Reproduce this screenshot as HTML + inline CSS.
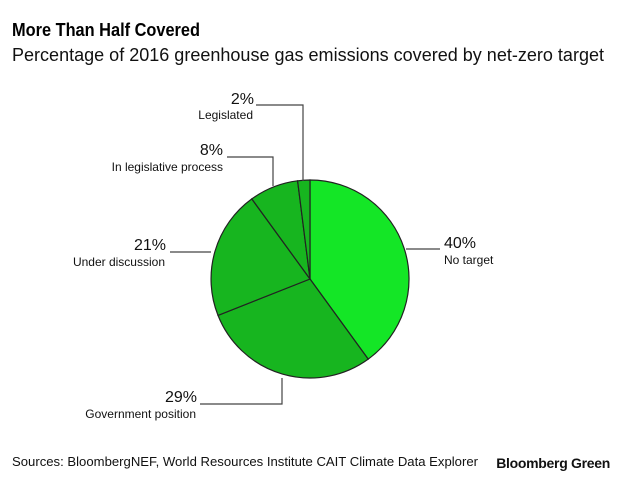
<!DOCTYPE html>
<html><head><meta charset="utf-8"><style>
body{margin:0;background:#fff;width:620px;height:478px;overflow:hidden;font-family:"Liberation Sans",Arial,sans-serif}
</style></head><body>
<svg width="620" height="478" xmlns="http://www.w3.org/2000/svg" font-family="Liberation Sans, Arial, sans-serif">
<text x="12" y="36" font-size="18" font-weight="bold" fill="#000" textLength="188" lengthAdjust="spacingAndGlyphs">More Than Half Covered</text>
<text x="12" y="61" font-size="18" fill="#111" textLength="592" lengthAdjust="spacingAndGlyphs">Percentage of 2016 greenhouse gas emissions covered by net-zero target</text>
<g stroke="#222" stroke-width="1.2">
<path d="M310,279 L310,180 A99,99 0 0 1 368.2,359.1 Z" fill="#14e626"/>
<path d="M310,279 L368.2,359.1 A99,99 0 0 1 218,315.4 Z" fill="#17b51f"/>
<path d="M310,279 L218,315.4 A99,99 0 0 1 251.8,198.9 Z" fill="#17b51f"/>
<path d="M310,279 L251.8,198.9 A99,99 0 0 1 297.6,180.8 Z" fill="#17b51f"/>
<path d="M310,279 L297.6,180.8 A99,99 0 0 1 310,180 Z" fill="#17b51f"/>
</g>
<g stroke="#444" stroke-width="1.2" fill="none">
<path d="M406,249 H440"/>
<path d="M282,378 V404 H200"/>
<path d="M211,252 H170"/>
<path d="M273,186 V157 H227"/>
<path d="M303,181 V105 H256"/>
</g>
<g fill="#111">
<text x="444" y="248" font-size="16">40%</text>
<text x="444" y="264" font-size="12">No target</text>
<text x="197" y="402" font-size="16" text-anchor="end">29%</text>
<text x="196" y="418" font-size="12" text-anchor="end">Government position</text>
<text x="166" y="250" font-size="16" text-anchor="end">21%</text>
<text x="165" y="266" font-size="12" text-anchor="end">Under discussion</text>
<text x="223" y="155" font-size="16" text-anchor="end">8%</text>
<text x="223" y="171" font-size="12" text-anchor="end">In legislative process</text>
<text x="254" y="104" font-size="16" text-anchor="end">2%</text>
<text x="253" y="119" font-size="12" text-anchor="end">Legislated</text>
<text x="12" y="466" font-size="13" textLength="466" lengthAdjust="spacingAndGlyphs">Sources: BloombergNEF, World Resources Institute CAIT Climate Data Explorer</text>
<text x="610" y="468" font-size="14" font-weight="bold" text-anchor="end" letter-spacing="-0.3">Bloomberg Green</text>
</g>
</svg>
</body></html>
